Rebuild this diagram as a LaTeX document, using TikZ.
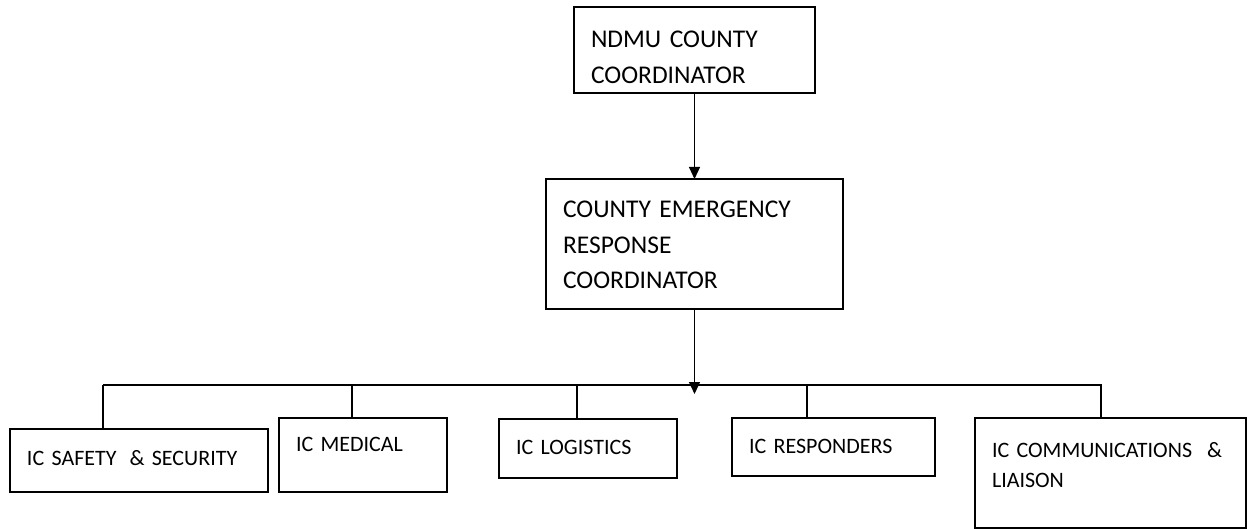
\documentclass[tikz,border=0pt]{standalone}
\usepackage{fontspec}
\setmainfont{Carlito}
\usetikzlibrary{arrows.meta}
\protected\def\bigfont{\fontsize{25.5}{35.5}\selectfont\spaceskip=4pt\relax}
\protected\def\smallfont{\fontsize{22}{30}\selectfont\spaceskip=3.5pt\relax}

\begin{document}
\begin{tikzpicture}[
    x=1pt, y=-1pt,
    % boxes are placed by their top-left corner, text set from the top
    box/.style={draw, line width=1.5pt, anchor=north west, align=left,
      inner xsep=17pt, inner ysep=0pt, outer sep=0pt},
    big/.style={font=\bigfont},
    small/.style={font=\smallfont},
    link/.style={line width=1.1pt},
    tip/.style={-{Triangle[width=11pt,length=12pt]}},
  ]
  \useasboundingbox (0,0) rectangle (1247,529);

  \node[box, big, text width=207pt, text height=41pt, text depth=45pt] (ndmu) at (574,7)
    {NDMU COUNTY\\COORDINATOR};
  \node[box, big, text width=263pt, text height=39pt, text depth=91pt] (cerc) at (546,179)
    {COUNTY EMERGENCY\\RESPONSE\\COORDINATOR};

  % incident commanders
  \node[box, small, text width=224pt, text height=36pt, text depth=27pt] (safety) at (10,429)
    {IC SAFETY\hspace{13pt}\& SECURITY};
  \node[box, small, text width=134pt, text height=33pt, text depth=41pt] (medical) at (279,418)
    {IC MEDICAL};
  \node[box, small, text width=144pt, text height=35pt, text depth=24pt] (logistics) at (499,419)
    {IC LOGISTICS};
  \node[box, small, text width=169pt, text height=35pt, text depth=23pt] (responders) at (732,418)
    {IC RESPONDERS};
  \node[box, small, text width=237pt, text height=39pt, text depth=71pt] (liaison) at (975,418)
    {IC COMMUNICATIONS\hspace{15pt}\&\\LIAISON};

  \coordinate (hub) at (694.5,394);
  \coordinate (busL) at (103,385);

  \draw[link, tip] (ndmu) -- (cerc);
  \draw[link, tip] (cerc) -- (hub);
  \foreach \n/\x in {safety/103, medical/352, logistics/577, responders/807, liaison/1101}
    \draw[link] (\n.north -| \x,0) |- (busL);
\end{tikzpicture}
\end{document}
